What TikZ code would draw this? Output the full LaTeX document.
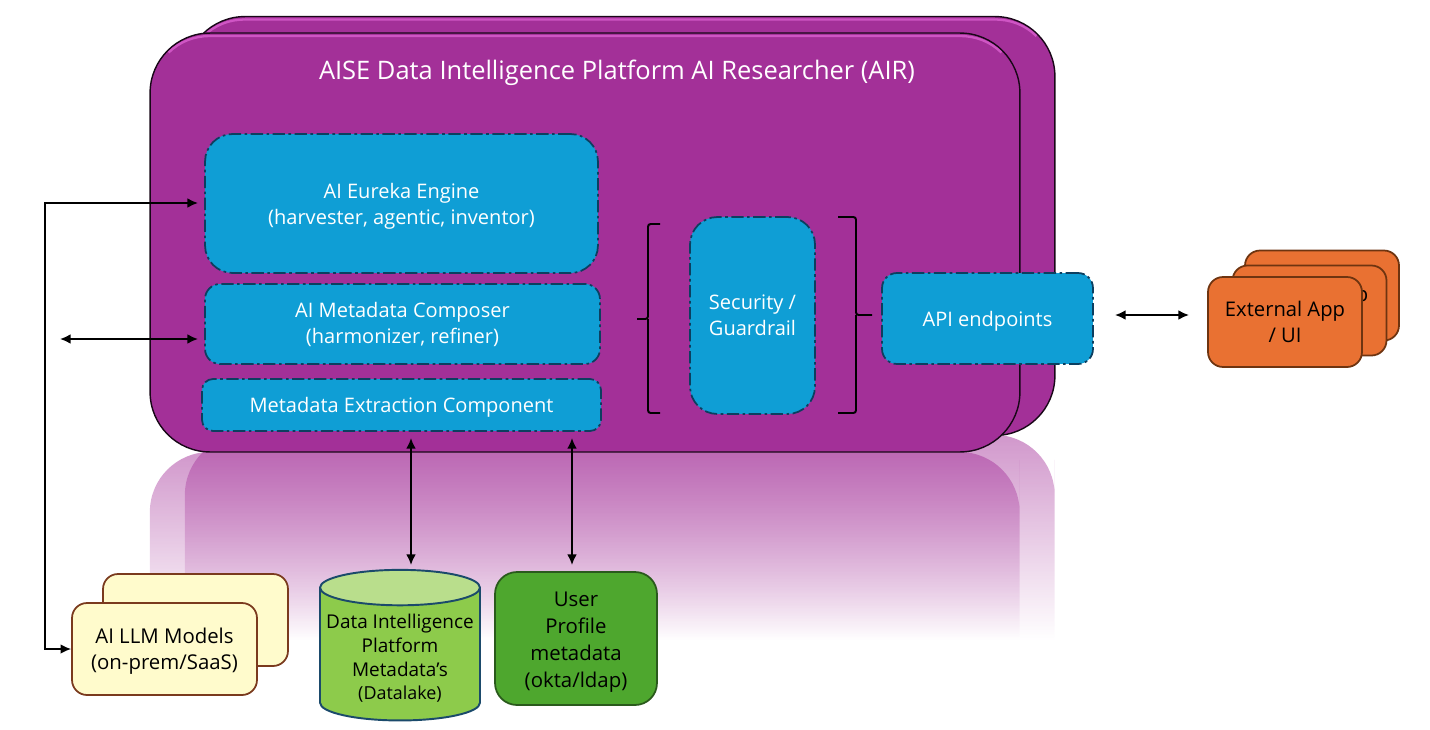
\documentclass[tikz,border=0pt]{standalone}
\usepackage{fontspec}
\setmainfont{Open Sans}
\usetikzlibrary{shapes.geometric,fadings,arrows.meta}

\definecolor{cardpurple}{HTML}{A33098}
\definecolor{cardrim}{HTML}{CF55C4}
\definecolor{boxblue}{HTML}{0F9ED5}
\definecolor{boxedge}{HTML}{0C3F60}
\definecolor{llmfill}{HTML}{FFFBCC}
\definecolor{llmedge}{HTML}{7A3A1E}
\definecolor{lakebody}{HTML}{8DCB4B}
\definecolor{laketop}{HTML}{B9DE8C}
\definecolor{lakeedge}{HTML}{1B4A6B}
\definecolor{userfill}{HTML}{4EA72E}
\definecolor{useredge}{HTML}{2A5A1C}
\definecolor{appfill}{HTML}{E97132}
\definecolor{appedge}{HTML}{6E3410}

\tikzfading[name=reflectfade, top color=transparent!50, bottom color=transparent!100]

\tikzset{
  card/.style={draw=black!85!cardpurple, line width=0.8pt, fill=cardpurple, rectangle,
    rounded corners=1.2cm, minimum width=17.4cm, minimum height=8.38cm, inner sep=0pt},
  cardedge/.style={cardrim, line width=1.3pt},
  reflection/.style={fill=cardpurple, path fading=reflectfade},
  bluebox/.style={draw=boxedge, line width=1pt, dash pattern=on 7pt off 2pt on 1.5pt off 2pt,
    fill=boxblue, rectangle, text=white, align=center, font=\fontsize{11.4}{14.8}\selectfont, inner sep=0pt},
  llmcard/.style={draw=llmedge, line width=1pt, fill=llmfill, rectangle, rounded corners=0.3cm,
    minimum width=3.7cm, minimum height=1.84cm, align=center, inner sep=0pt,
    font=\fontsize{11.6}{14.8}\selectfont},
  appcard/.style={draw=appedge, line width=1pt, fill=appfill, rectangle, rounded corners=0.3cm,
    minimum width=3.08cm, minimum height=1.8cm, align=center, inner sep=0pt,
    font=\fontsize{11.5}{15}\selectfont},
  biarrow/.style={{Latex[length=6pt,width=5.5pt]}-{Latex[length=6pt,width=5.5pt]}, line width=1pt},
  bracket/.style={line width=1.1pt, rounded corners=1.5pt},
}

% Lighter band along the top of a platform card
\newcommand{\cardtop}{
  \draw[cardedge] (168.6,52.6) .. controls (179.6,41.6) and (194.5,36) .. (210,36) -- (960,36)
    .. controls (975.5,36) and (990.4,41.6) .. (1001.4,52.6);
}

\begin{document}
\begin{tikzpicture}[x=0.02cm, y=-0.02cm]
  \useasboundingbox (0,0) rectangle (1430,730);

  % Reflections under the platform cards
  \fill[reflection] (185,640) -- (185,520) [rounded corners=1.2cm] -- (185,435) -- (1055,435)
    -- (1055,520) [sharp corners] -- (1055,640) -- cycle;
  \fill[reflection] (150,640) -- (150,520) [rounded corners=1.2cm] -- (150,452) -- (1020,452)
    -- (1020,520) [sharp corners] -- (1020,640) -- cycle;

  % Platform cards
  \node[card] (backcard) at (620,226) {};
  \begin{scope}[shift={(35,-16.5)}]
    \cardtop
  \end{scope}
  \node[card] (frontcard) at (585,242.5) {};
  \cardtop
  \node[text=white, font=\fontsize{14.5}{17}\selectfont] (title) at (617,72.5)
    {AISE Data Intelligence Platform AI Researcher (AIR)};

  % Components
  \node[bluebox, text depth=0pt, rounded corners=0.55cm, minimum width=7.86cm, minimum height=2.78cm]
    (eureka) at (401.5,203.5) {AI Eureka Engine\\(harvester, agentic, inventor)};
  \node[bluebox, rounded corners=0.3cm, minimum width=7.9cm, minimum height=1.6cm]
    (composer) at (402.5,324) {AI Metadata Composer\\(harmonizer, refiner)};
  \node[bluebox, text depth=0pt, rounded corners=0.22cm, minimum width=7.98cm, minimum height=1.04cm]
    (extraction) at (401.5,405) {Metadata Extraction Component};
  \node[bluebox, rounded corners=0.55cm, minimum width=2.5cm, minimum height=3.94cm]
    (guardrail) at (752.5,315.5) {Security /\\Guardrail};
  \node[bluebox, text depth=0pt, rounded corners=0.3cm, minimum width=4.22cm, minimum height=1.82cm]
    (api) at (987.5,318.5) {API endpoints};

  % Brackets round the guardrail
  \draw[bracket] (660,224) -- (648,224) -- (648,319) -- (637,319) (648,319) -- (648,413) -- (660,413);
  \draw[bracket] (838,217) -- (856,217) -- (856,315) -- (872,315) (856,315) -- (856,413) -- (838,413);

  % External apps
  \node[appcard] (appback) at (1322,295.5) {};
  \node[appcard] (appmid) at (1309.5,310.5) {};
  \node[font=\fontsize{11.5}{15}\selectfont] (apppeek) at (1362,298) {p};
  \node[appcard] (appfront) at (1285,322) {External App\\/ UI};

  % Models and data stores
  \node[llmcard] (llmback) at (195.5,620) {};
  \node[llmcard, text depth=0pt] (llmfront) at (164.5,649) {AI LLM Models\\(on-prem/SaaS)};
  \node[cylinder, shape border rotate=90, aspect=0.24, draw=lakeedge, line width=1.1pt,
    cylinder uses custom fill, cylinder body fill=lakebody, cylinder end fill=laketop,
    minimum width=3.2cm, minimum height=2.22cm, inner sep=0pt, align=center,
    font=\fontsize{10.8}{13.6}\selectfont] (datalake) at (400,654.5)
    {\rule{0pt}{12.5pt}Data Intelligence\\Platform\\Metadata’s\\{\fontsize{10.2}{13.6}\selectfont (Datalake)}};
  \node[draw=useredge, line width=1pt, fill=userfill, rectangle, rounded corners=0.44cm,
    minimum width=3.24cm, minimum height=2.66cm, align=center, inner sep=0pt,
    font=\fontsize{11.6}{15.5}\selectfont] (userprofile) at (576,638.5)
    {\rule{0pt}{12.5pt}User\\Profile\\metadata\\(okta/ldap)};

  % Free ends of the connectors
  \coordinate (trunk) at (45,203);
  \coordinate (composerfree) at (60,339);
  \coordinate (composerport) at (198,339);
  \coordinate (lakeport) at (411,565);
  \coordinate (userport) at (572,565);
  \coordinate (apiport) at (1115,315);
  \coordinate (appport) at (1189,315);

  % Connectors
  \draw[biarrow, shorten <=3.5pt] (eureka.west |- trunk) -- (trunk) |- (llmfront.west);
  \draw[biarrow] (composerfree) -- (composerport);
  \draw[biarrow, shorten <=3.5pt] (extraction.south -| lakeport) -- (lakeport);
  \draw[biarrow, shorten <=3.5pt] (extraction.south -| userport) -- (userport);
  \draw[biarrow] (apiport) -- (appport);
\end{tikzpicture}
\end{document}
